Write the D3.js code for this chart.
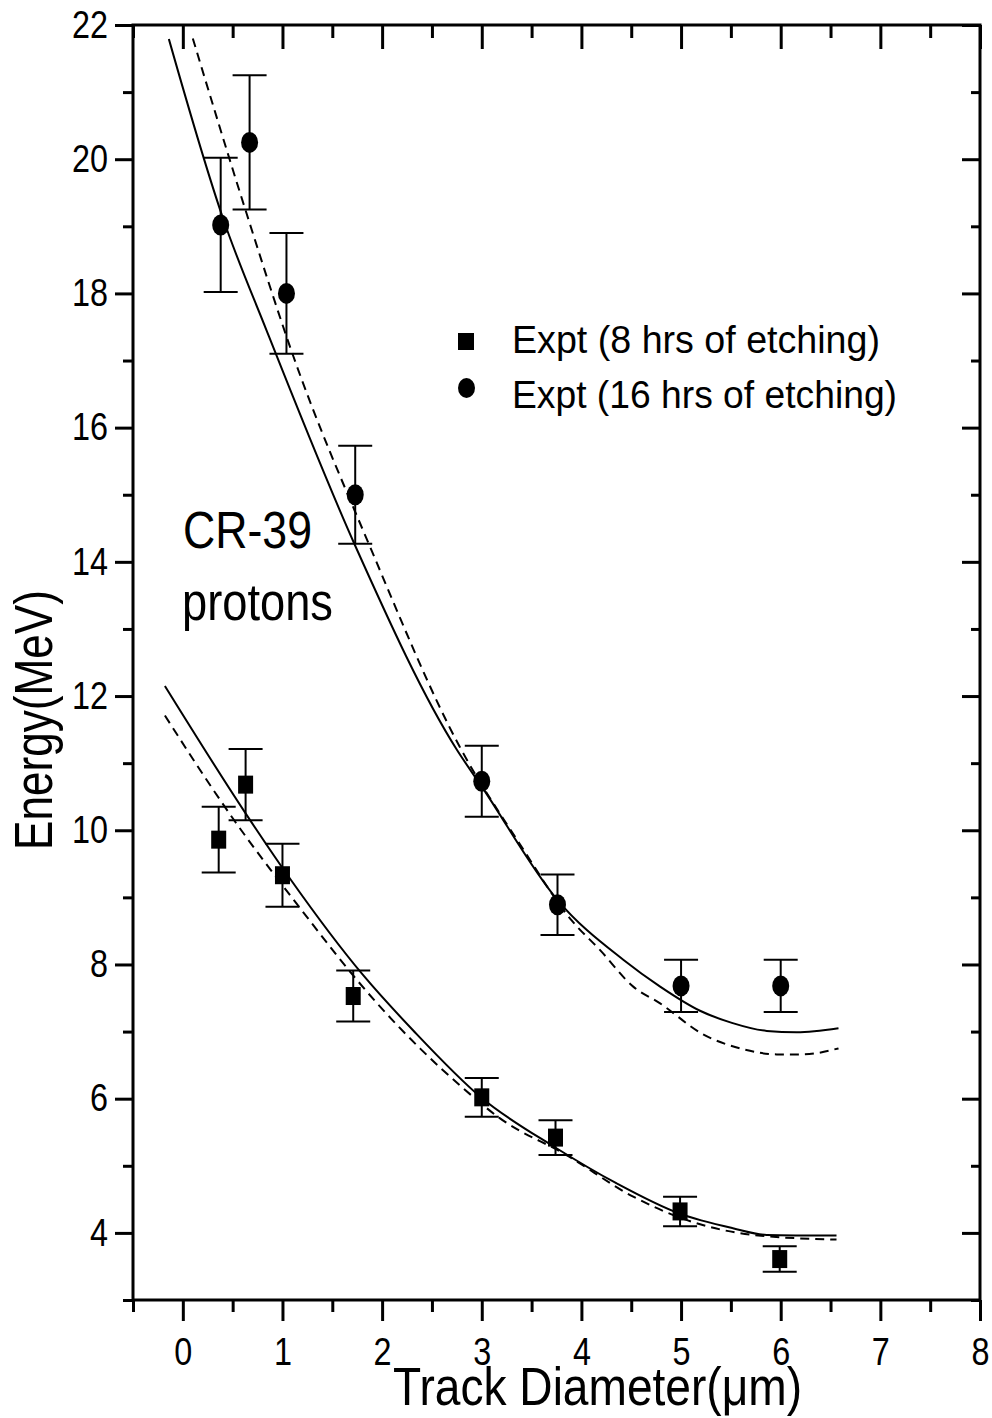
<!DOCTYPE html>
<html>
<head>
<meta charset="utf-8">
<script src="https://cdn.jsdelivr.net/npm/d3@7"></script>
<style>
  body { margin: 0; background: #fff; }
  svg text { font-family: "Liberation Sans", Arial, sans-serif; fill: #000; }
</style>
</head>
<body>
<svg id="chart" width="992" height="1418"></svg>
<script>
(() => {

    // measured points, 8 hrs of etching (squares)
    const diam_8h = [0.36, 0.63, 1.0, 1.71, 3.0, 3.74, 4.99, 5.99];
    const energy_8h = [9.86, 10.68, 9.33, 7.53, 6.02, 5.42, 4.32, 3.61];
    const err_8h = [0.49, 0.53, 0.47, 0.38, 0.29, 0.26, 0.22, 0.19];

    // measured points, 16 hrs of etching (circles)
    const diam_16h = [0.38, 0.67, 1.04, 1.73, 3.0, 3.76, 5.0, 6.0];
    const energy_16h = [19.02, 20.25, 18.0, 15.0, 10.73, 8.89, 7.68, 7.68];
    const err_16h = [1.0, 1.0, 0.9, 0.73, 0.53, 0.45, 0.39, 0.39];

    // fitted curves (solid and dashed) for each etching time
    const fit_16h_solid_x = [-0.14, 0.41, 0.84, 1.73, 2.75, 3.0, 3.76, 4.42, 4.79, 5.19, 5.51, 5.86, 6.16, 6.58];
    const fit_16h_solid_y = [21.79, 19.09, 17.45, 14.24, 11.2, 10.65, 8.96, 8.07, 7.67, 7.31, 7.13, 7.01, 6.99, 7.05];
    const fit_16h_dash_x = [0.1, 0.64, 1.11, 1.88, 2.78, 3.38, 3.9, 4.19, 4.52, 4.79, 5.22, 5.62, 5.96, 6.22, 6.58];
    const fit_16h_dash_y = [21.8, 19.19, 17.06, 14.22, 11.24, 9.8, 8.66, 8.21, 7.67, 7.42, 6.96, 6.74, 6.66, 6.66, 6.75];
    const fit_8h_solid_x = [-0.18, 0.64, 1.08, 1.81, 2.31, 3.0, 3.73, 4.35, 4.98, 5.52, 5.86, 6.56];
    const fit_8h_solid_y = [12.15, 10.23, 9.27, 7.84, 7.02, 6.01, 5.28, 4.74, 4.29, 4.07, 3.97, 3.96];
    const fit_8h_dash_x = [-0.18, 0.51, 1.14, 1.95, 2.38, 2.81, 3.18, 3.85, 4.52, 5.06, 5.72, 6.56];
    const fit_8h_dash_y = [11.71, 10.16, 8.91, 7.42, 6.75, 6.16, 5.71, 5.16, 4.54, 4.19, 3.97, 3.9];

    // ticks
    const x_major = [0, 1, 2, 3, 4, 5, 6, 7, 8];
    const x_minor = [-0.5, 0.5, 1.5, 2.5, 3.5, 4.5, 5.5, 6.5, 7.5];
    const y_major = [4, 6, 8, 10, 12, 14, 16, 18, 20, 22];
    const y_minor = [3, 5, 7, 9, 11, 13, 15, 17, 19, 21];

    const legend_labels = ['Expt (8 hrs of etching)', 'Expt (16 hrs of etching)'];

    // chart frame
    const left = 133, right = 980, top = 25, bottom = 1300;
    const cap = 17;

    let svg = d3.select('#chart');

    let x_scale = d3.scaleLinear().domain([-0.5, 8]).range([left, right]);
    let y_scale = d3.scaleLinear().domain([3, 22]).range([bottom, top]);

    // axes helper
    let draw_axis = function (axis, tx, ty) {
        let g = svg.append('g')
            .attr('transform', `translate(${tx},${ty})`)
            .call(axis)
            .attr('font-family', '"Liberation Sans", Arial, sans-serif')
            .attr('font-size', 38);
        g.select('.domain').remove();
        g.selectAll('line').attr('stroke', '#000').attr('stroke-width', 3);
        g.selectAll('text')
            .attr('fill', '#000')
            .attr('textLength', (d) => String(d).length * 18)
            .attr('lengthAdjust', 'spacingAndGlyphs');
        return g;
    };

    // bottom (outward ticks, labelled)
    draw_axis(d3.axisBottom(x_scale).tickValues(x_major).tickSize(21).tickPadding(17).tickFormat(d3.format('d')), 0, bottom);
    draw_axis(d3.axisBottom(x_scale).tickValues(x_minor).tickSize(12).tickFormat(''), 0, bottom);
    // top (inward ticks)
    draw_axis(d3.axisTop(x_scale).tickValues(x_major).tickSize(-24).tickFormat(''), 0, top);
    draw_axis(d3.axisTop(x_scale).tickValues(x_minor).tickSize(-13).tickFormat(''), 0, top);
    // left (outward ticks, labelled)
    draw_axis(d3.axisLeft(y_scale).tickValues(y_major).tickSize(18).tickPadding(7).tickFormat(d3.format('d')), left, 0);
    draw_axis(d3.axisLeft(y_scale).tickValues(y_minor).tickSize(10).tickFormat(''), left, 0);
    // right (inward ticks)
    draw_axis(d3.axisRight(y_scale).tickValues(y_major).tickSize(-18).tickFormat(''), right, 0);
    draw_axis(d3.axisRight(y_scale).tickValues(y_minor).tickSize(-9).tickFormat(''), right, 0);

    svg.append('rect')
        .attr('x', left)
        .attr('y', top)
        .attr('width', right - left)
        .attr('height', bottom - top)
        .attr('fill', 'none')
        .attr('stroke', '#000')
        .attr('stroke-width', 3);

    // fitted curves
    let line = d3.line()
        .x((d) => x_scale(d[0]))
        .y((d) => y_scale(d[1]))
        .curve(d3.curveMonotoneX);

    let curves = [
        { xs: fit_16h_solid_x, ys: fit_16h_solid_y, dash: null },
        { xs: fit_16h_dash_x, ys: fit_16h_dash_y, dash: '9,6' },
        { xs: fit_8h_solid_x, ys: fit_8h_solid_y, dash: null },
        { xs: fit_8h_dash_x, ys: fit_8h_dash_y, dash: '9,6' }
    ];

    svg.append('g')
        .selectAll('path')
        .data(curves)
        .enter()
        .append('path')
        .attr('d', (c) => line(c.xs.map((v, i) => [v, c.ys[i]])))
        .attr('fill', 'none')
        .attr('stroke', '#000')
        .attr('stroke-width', 2)
        .attr('stroke-dasharray', (c) => c.dash);

    // error bars
    let points_8h = diam_8h.map((d, i) => ({ x: d, y: energy_8h[i], e: err_8h[i] }));
    let points_16h = diam_16h.map((d, i) => ({ x: d, y: energy_16h[i], e: err_16h[i] }));

    let draw_errors = function (points) {
        let g = svg.append('g').attr('stroke', '#000').attr('stroke-width', 2);
        g.selectAll('.stem')
            .data(points)
            .enter()
            .append('line')
            .attr('x1', (d) => x_scale(d.x))
            .attr('x2', (d) => x_scale(d.x))
            .attr('y1', (d) => y_scale(d.y - d.e))
            .attr('y2', (d) => y_scale(d.y + d.e));
        for (const side of [-1, 1]) {
            g.selectAll('.cap' + side)
                .data(points)
                .enter()
                .append('line')
                .attr('x1', (d) => x_scale(d.x) - cap)
                .attr('x2', (d) => x_scale(d.x) + cap)
                .attr('y1', (d) => y_scale(d.y + side * d.e))
                .attr('y2', (d) => y_scale(d.y + side * d.e));
        }
    };
    draw_errors(points_8h);
    draw_errors(points_16h);

    // markers
    svg.append('g')
        .selectAll('rect')
        .data(points_8h)
        .enter()
        .append('rect')
        .attr('x', (d) => x_scale(d.x) - 7.5)
        .attr('y', (d) => y_scale(d.y) - 9)
        .attr('width', 15)
        .attr('height', 18)
        .attr('fill', '#000');

    svg.append('g')
        .selectAll('ellipse')
        .data(points_16h)
        .enter()
        .append('ellipse')
        .attr('cx', (d) => x_scale(d.x))
        .attr('cy', (d) => y_scale(d.y))
        .attr('rx', 8.5)
        .attr('ry', 10.5)
        .attr('fill', '#000');

    // legend
    let legend = svg.append('g');
    legend.append('rect')
        .attr('x', 458).attr('y', 333).attr('width', 16).attr('height', 17)
        .attr('fill', '#000');
    legend.append('ellipse')
        .attr('cx', 466.5).attr('cy', 388).attr('rx', 8.5).attr('ry', 10)
        .attr('fill', '#000');
    legend.append('text')
        .attr('x', 512).attr('y', 353)
        .attr('textLength', 368).attr('lengthAdjust', 'spacingAndGlyphs')
        .style('font-size', '39px')
        .text(legend_labels[0]);
    legend.append('text')
        .attr('x', 512).attr('y', 408)
        .attr('textLength', 385).attr('lengthAdjust', 'spacingAndGlyphs')
        .style('font-size', '39px')
        .text(legend_labels[1]);

    // annotation
    svg.append('text')
        .attr('x', 183).attr('y', 548)
        .attr('textLength', 129).attr('lengthAdjust', 'spacingAndGlyphs')
        .style('font-size', '51px')
        .text('CR-39');
    svg.append('text')
        .attr('x', 182).attr('y', 620)
        .attr('textLength', 151).attr('lengthAdjust', 'spacingAndGlyphs')
        .style('font-size', '51px')
        .text('protons');

    // axis titles
    svg.append('text')
        .attr('x', 393).attr('y', 1405)
        .attr('textLength', 409).attr('lengthAdjust', 'spacingAndGlyphs')
        .style('font-size', '53px')
        .text('Track Diameter(\u03bcm)');

    svg.append('text')
        .attr('transform', 'translate(52,850) rotate(-90)')
        .attr('textLength', 260).attr('lengthAdjust', 'spacingAndGlyphs')
        .style('font-size', '53px')
        .text('Energy(MeV)');

})();
</script>
</body>
</html>
